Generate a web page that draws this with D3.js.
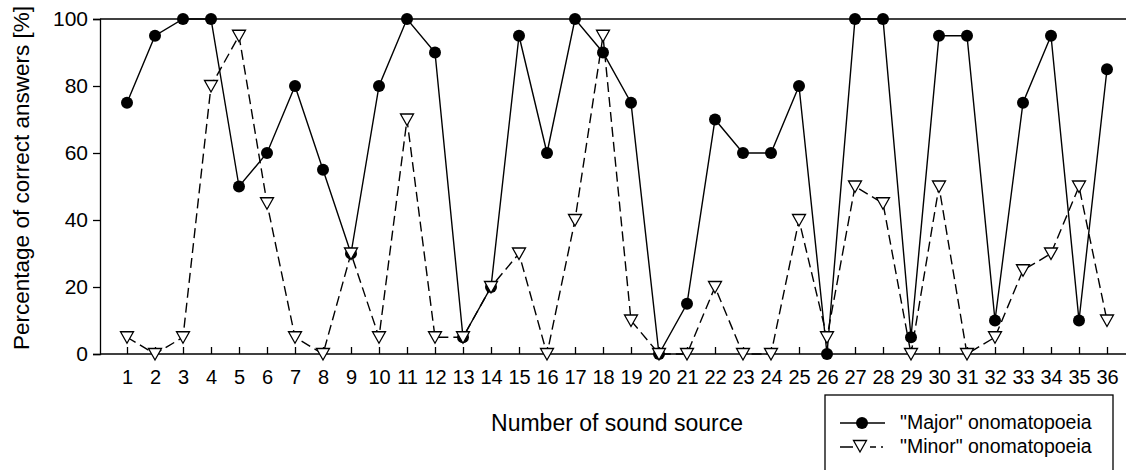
<!DOCTYPE html>
<html>
<head>
<meta charset="utf-8">
<script src="https://cdn.jsdelivr.net/npm/d3@7"></script>
<style>
  html, body { margin: 0; padding: 0; background: #fff; }
  svg { display: block; }
  text { font-family: "Liberation Sans", Arial, sans-serif; fill: #000; }
</style>
</head>
<body>
<svg id="chart" width="1126" height="470"></svg>
<script>
const sources = d3.range(1, 37);
const majorValues = [75, 95, 100, 100, 50, 60, 80, 55, 30, 80, 100, 90, 5, 20, 95, 60, 100, 90, 75, 0,
                     15, 70, 60, 60, 80, 0, 100, 100, 5, 95, 95, 10, 75, 95, 10, 85];
const minorValues = [5, 0, 5, 80, 95, 45, 5, 0, 30, 5, 70, 5, 5, 20, 30, 0, 40, 95, 10, 0,
                     0, 20, 0, 0, 40, 5, 50, 45, 0, 50, 0, 5, 25, 30, 50, 10];
const yTicks = [0, 20, 40, 60, 80, 100];
const seriesNames = ['"Major" onomatopoeia', '"Minor" onomatopoeia'];
const xTitle = "Number of sound source";
const yTitle = "Percentage of correct answers [%]";

const svg = d3.select("#chart");
const x = d3.scaleLinear().domain([1, 36]).range([127, 1107]);
const y = d3.scaleLinear().domain([0, 100]).range([354, 19]);
const plotLeft = 100, plotRight = 1126;
const FONT = '"Liberation Sans", Arial, sans-serif';

// top frame line
svg.append("line").attr("x1", plotLeft).attr("x2", plotRight)
  .attr("y1", y(100)).attr("y2", y(100)).attr("stroke", "#000").attr("stroke-width", 1.3);

// y axis
const yAxis = svg.append("g").attr("transform", `translate(${plotLeft},0)`)
  .call(d3.axisLeft(y).tickValues(yTicks).tickSize(7).tickPadding(5));
yAxis.select(".domain").attr("stroke-width", 1.3);
yAxis.selectAll(".tick line").attr("stroke-width", 1.3);
yAxis.selectAll("text").style("font-size", "21px").style("font-family", FONT);

// x axis
const xAxis = svg.append("g").attr("transform", `translate(0,${y(0)})`)
  .call(d3.axisBottom(x).tickValues(sources).tickSize(-7).tickPadding(0).tickFormat(d3.format("d")));
xAxis.select(".domain").attr("d", `M${plotLeft},0H${plotRight}`).attr("stroke-width", 1.3);
xAxis.selectAll(".tick line").attr("stroke-width", 1.3);
xAxis.selectAll("text").attr("y", 30).attr("dy", "0")
  .style("font-size", "20px").style("font-family", FONT);

// axis titles
svg.append("text").attr("x", 617).attr("y", 431).attr("text-anchor", "middle")
  .style("font-size", "23px").text(xTitle);
svg.append("text").attr("transform", `translate(29,178) rotate(-90)`).attr("text-anchor", "middle")
  .style("font-size", "22.5px").text(yTitle);

const line = d3.line().x((d, i) => x(sources[i])).y(d => y(d));

// major series
svg.append("path").datum(majorValues).attr("d", line)
  .attr("fill", "none").attr("stroke", "#000").attr("stroke-width", 1.4);
svg.append("g").selectAll("circle").data(majorValues).join("circle")
  .attr("cx", (d, i) => x(sources[i])).attr("cy", d => y(d)).attr("r", 6).attr("fill", "#000");

// minor series
svg.append("path").datum(minorValues).attr("d", line)
  .attr("fill", "none").attr("stroke", "#000").attr("stroke-width", 1.4)
  .attr("stroke-dasharray", "10,5");
const tri = (cx, cy) => `M${cx - 6.5},${cy - 5.5}L${cx + 6.5},${cy - 5.5}L${cx},${cy + 6}Z`;
svg.append("g").selectAll("path").data(minorValues).join("path")
  .attr("d", (d, i) => tri(x(sources[i]), y(d)))
  .attr("fill", "#fff").attr("stroke", "#000").attr("stroke-width", 1.3);

// legend
const lg = svg.append("g");
lg.append("rect").attr("x", 825).attr("y", 395).attr("width", 288).attr("height", 100)
  .attr("fill", "#fff").attr("stroke", "#000").attr("stroke-width", 1.3);
lg.append("line").attr("x1", 840).attr("x2", 885).attr("y1", 423).attr("y2", 423)
  .attr("stroke", "#000").attr("stroke-width", 1.4);
lg.append("circle").attr("cx", 862).attr("cy", 423).attr("r", 6).attr("fill", "#000");
lg.append("path").attr("d", "M840,447H885").attr("stroke", "#000").attr("stroke-width", 1.4)
  .attr("stroke-dasharray", "13,17,6,5,2,10");
lg.append("path").attr("d", tri(860, 446)).attr("fill", "#fff").attr("stroke", "#000").attr("stroke-width", 1.3);
lg.append("text").attr("x", 900).attr("y", 429).style("font-size", "19.5px").text(seriesNames[0]);
lg.append("text").attr("x", 900).attr("y", 453).style("font-size", "19.5px").text(seriesNames[1]);
</script>
</body>
</html>
